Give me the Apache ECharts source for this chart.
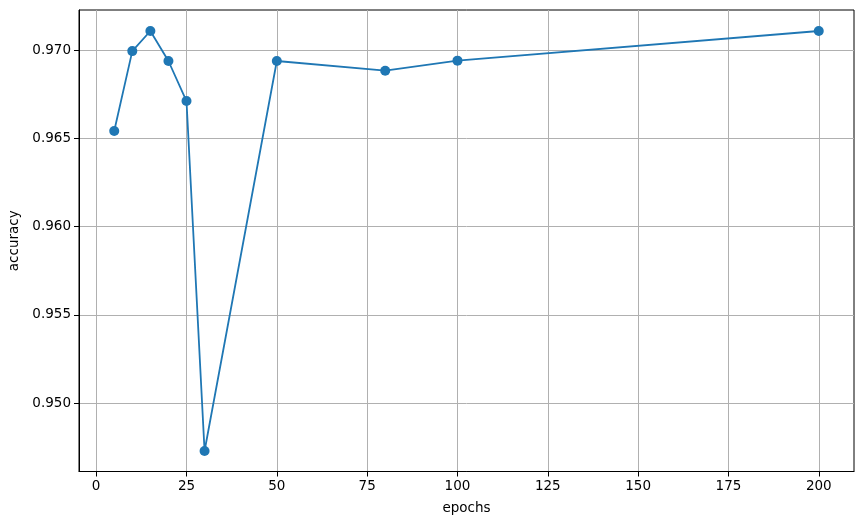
<!DOCTYPE html>
<html><head><meta charset="utf-8">
<script src="https://cdn.jsdelivr.net/npm/echarts@6/dist/echarts.min.js"></script>
<style>html,body{margin:0;padding:0;background:#fff}#c{width:863px;height:525px}</style>
</head><body><div id="c"></div>
<script>
const epochs = [5, 10, 15, 20, 25, 30, 50, 80, 100, 200];
const accuracy = [0.96541, 0.96994, 0.97108, 0.96938, 0.96711, 0.94728, 0.96938, 0.96883, 0.96940, 0.97108];
const xTicks = [0, 25, 50, 75, 100, 125, 150, 175, 200];
const yTicks = [0.950, 0.955, 0.960, 0.965, 0.970];

const font = 'DejaVu Sans';
const chart = echarts.init(document.getElementById('c'), null, {renderer: 'canvas'});
chart.setOption({
  animation: false,
  grid: {left: 79, top: 10, right: 9, bottom: 53.5, containLabel: false, outerBoundsMode: 'none',
    show: true, borderColor: '#000', borderWidth: 1, backgroundColor: 'transparent'},
  xAxis: {
    type: 'value', min: -4.75, max: 209.75,
    name: 'epochs', nameLocation: 'middle', nameGap: 30,
    nameTextStyle: {fontFamily: font, fontSize: 13.5, color: '#000'},
    axisLine: {show: true, onZero: false, lineStyle: {color: '#000', width: 1}},
    axisTick: {show: true, customValues: xTicks, length: 5, lineStyle: {color: '#000', width: 1}},
    axisLabel: {customValues: xTicks, fontFamily: font, fontSize: 13.5, color: '#000', margin: 8},
    splitLine: {show: true, customValues: xTicks, lineStyle: {color: '#b0b0b0', width: 1}}
  },
  yAxis: {
    type: 'value', min: 0.94612, max: 0.97227,
    name: 'accuracy', nameLocation: 'middle', nameGap: 53,
    nameTextStyle: {fontFamily: font, fontSize: 13.5, color: '#000'},
    axisLine: {show: true, onZero: false, lineStyle: {color: '#000', width: 1}},
    axisTick: {show: true, customValues: yTicks, length: 5, lineStyle: {color: '#000', width: 1}},
    axisLabel: {customValues: yTicks, fontFamily: font, fontSize: 13.5, color: '#000', margin: 8,
      formatter: v => v.toFixed(3)},
    splitLine: {show: true, customValues: yTicks, lineStyle: {color: '#b0b0b0', width: 1}}
  },
  series: [{
    type: 'line',
    data: epochs.map((e, i) => [e, accuracy[i]]),
    symbol: 'circle', symbolSize: 10,
    lineStyle: {color: '#1f77b4', width: 1.8},
    itemStyle: {color: '#1f77b4'}
  }]
});
</script></body></html>
